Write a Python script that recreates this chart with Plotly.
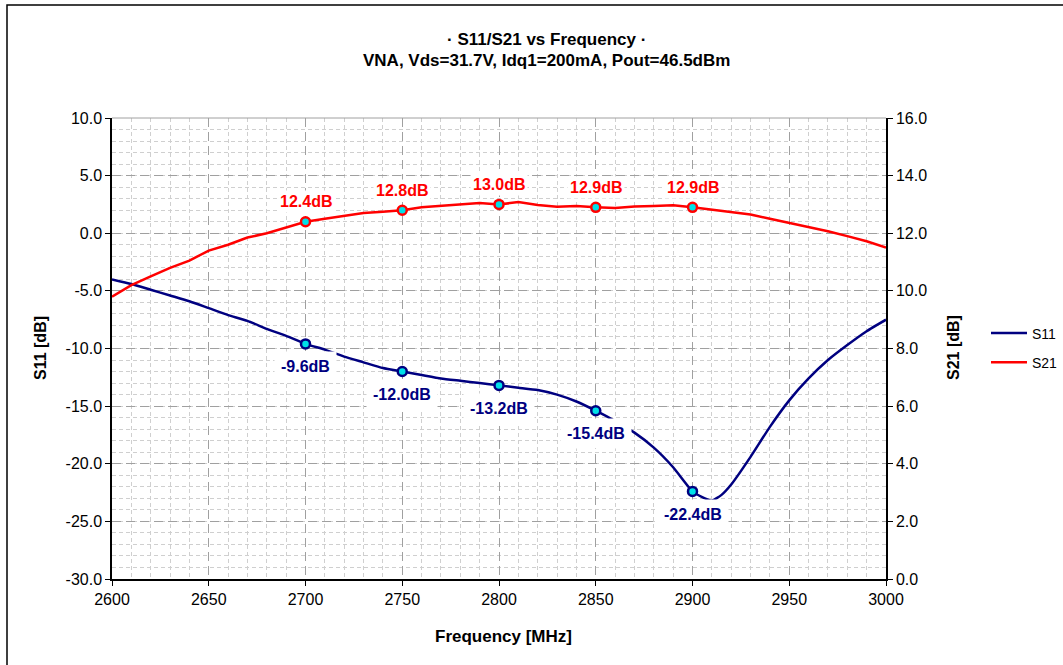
import plotly.graph_objects as go

# ---------------- data ----------------
freq = [2600, 2610, 2620, 2630, 2640, 2650, 2660, 2670, 2680, 2690,
        2700, 2710, 2720, 2730, 2740, 2750, 2760, 2770, 2780, 2790,
        2800, 2810, 2820, 2830, 2840, 2850, 2860, 2870, 2880, 2890,
        2900, 2905, 2910, 2915, 2920, 2930, 2940, 2950, 2960, 2970,
        2980, 2990, 3000]
s11 = [-4.0, -4.4, -4.9, -5.4, -5.9, -6.5, -7.1, -7.6, -8.3, -8.9,
       -9.6, -10.1, -10.7, -11.2, -11.7, -12.0, -12.3, -12.6, -12.8, -13.0,
       -13.2, -13.4, -13.6, -14.0, -14.6, -15.4, -16.3, -17.3, -18.6, -20.3,
       -22.4, -22.9, -23.2, -22.7, -21.8, -19.4, -16.8, -14.5, -12.6, -11.0,
       -9.7, -8.5, -7.5]

freq21 = [2600, 2610, 2620, 2630, 2640, 2650, 2660, 2670, 2680, 2690,
          2700, 2710, 2720, 2730, 2740, 2750, 2760, 2770, 2780, 2790,
          2800, 2810, 2820, 2830, 2840, 2850, 2860, 2870, 2880, 2890,
          2900, 2910, 2920, 2930, 2940, 2950, 2960, 2970, 2980, 2990, 3000]
s21 = [9.8, 10.2, 10.5, 10.8, 11.05, 11.4, 11.6, 11.85, 12.0, 12.2,
       12.4, 12.5, 12.6, 12.7, 12.75, 12.8, 12.9, 12.95, 13.0, 13.05,
       13.0, 13.08, 12.98, 12.92, 12.95, 12.9, 12.88, 12.93, 12.95, 12.97,
       12.9, 12.82, 12.75, 12.65, 12.5, 12.36, 12.22, 12.07, 11.9, 11.72, 11.5]

mark_freq = [2700, 2750, 2800, 2850, 2900]
s11_mark = [-9.6, -12.0, -13.2, -15.4, -22.4]
s21_mark = [12.4, 12.8, 13.0, 12.9, 12.9]

y1_ticks = [-30, -25, -20, -15, -10, -5, 0, 5, 10]
y1_ticktext = ["-30.0", "-25.0", "-20.0", "-15.0", "-10.0", "-5.0", "0.0", "5.0", "10.0"]
y2_ticks = [0, 2, 4, 6, 8, 10, 12, 14, 16]
y2_ticktext = ["0.0", "2.0", "4.0", "6.0", "8.0", "10.0", "12.0", "14.0", "16.0"]

title1 = "· S11/S21 vs Frequency ·"
title2 = "VNA, Vds=31.7V, Idq1=200mA, Pout=46.5dBm"
xtitle = "Frequency [MHz]"
y1title = "S11 [dB]"
y2title = "S21 [dB]"

# ---------------- style ----------------
FONT = "Liberation Sans, Arial, sans-serif"
NAVY = "#000080"
RED = "#ff0000"
CYAN = "#00e0e8"

L, R, T, B = 112, 886, 118, 579
W, H = 1063, 665
PW, PH = R - L, B - T


def px(x):
    return (x - L) / PW


def py(y):
    return (B - y) / PH


fig = go.Figure()

fig.add_trace(go.Scatter(x=freq, y=s11, name="S11", mode="lines", legendgroup="a",
                         line=dict(color=NAVY, width=2.5, shape="spline", smoothing=0.5)))
fig.add_trace(go.Scatter(x=freq21, y=s21, name="S21", mode="lines", legendgroup="b",
                         line=dict(color=RED, width=2.5), yaxis="y2"))
fig.add_trace(go.Scatter(x=mark_freq, y=s11_mark, mode="markers", showlegend=False,
                         marker=dict(size=9, color=CYAN, line=dict(color=NAVY, width=2.5))))
fig.add_trace(go.Scatter(x=mark_freq, y=s21_mark, mode="markers", showlegend=False,
                         yaxis="y2",
                         marker=dict(size=9, color=CYAN, line=dict(color=RED, width=2.5))))

annotations = []
for f, v in zip(mark_freq, s11_mark):
    annotations.append(dict(x=f, y=v, xref="x", yref="y", text=f"<b>{v:.1f}dB</b>",
                            showarrow=False, yshift=-23, bgcolor="white",
                            borderpad=6,
                            font=dict(family=FONT, size=16, color=NAVY)))
for f, v in zip(mark_freq, s21_mark):
    annotations.append(dict(x=f, y=v, xref="x", yref="y2", text=f"<b>{v:.1f}dB</b>",
                            showarrow=False, yshift=20, bgcolor="white",
                            borderpad=2,
                            font=dict(family=FONT, size=16, color=RED)))


def label(x, y, text, size, angle=0):
    return dict(x=px(x), y=py(y), xref="paper", yref="paper", text=f"<b>{text}</b>",
                xanchor="center", yanchor="middle", textangle=angle,
                showarrow=False, font=dict(family=FONT, size=size, color="black"))


annotations += [
    label(546, 40, title1, 17),
    label(546, 61, title2, 17),
    label(503, 636, xtitle, 17),
    label(40, 348, y1title, 16, -90),
    label(953, 348, y2title, 16, -90),
]

grid_major = dict(showgrid=True, gridcolor="#a0a0a0", gridwidth=1, griddash="9px,5px")
minor = dict(showgrid=True, gridcolor="#cfcfcf", gridwidth=1, griddash="4px,3px")

fig.update_layout(
    width=W, height=H,
    margin=dict(l=L, r=W - R, t=T, b=H - B, autoexpand=False),
    paper_bgcolor="white", plot_bgcolor="white",
    font=dict(family=FONT, size=16, color="black"),
    showlegend=True,
    legend=dict(x=px(986), y=py(348), xanchor="left", yanchor="middle",
                bgcolor="rgba(0,0,0,0)", font=dict(family=FONT, size=14, color="black"),
                itemwidth=36, tracegroupgap=8),
    annotations=annotations,
    xaxis=dict(range=[2600, 3000], dtick=50, tick0=2600, automargin=False,
               showline=True, linecolor="black", linewidth=1.5, mirror=False,
               ticks="outside", ticklen=5, tickcolor="black",
               tickfont=dict(family=FONT, size=16),
               minor=dict(dtick=10, **minor), zeroline=False, **grid_major),
    yaxis=dict(range=[-30, 10], tickmode="array", tickvals=y1_ticks, ticktext=y1_ticktext,
               automargin=False,
               showline=True, linecolor="black", linewidth=1.5,
               ticks="outside", ticklen=5, tickcolor="black",
               tickfont=dict(family=FONT, size=16),
               minor=dict(dtick=1, **minor), zeroline=False, **grid_major),
    yaxis2=dict(range=[0, 16], tickmode="array", tickvals=y2_ticks, ticktext=y2_ticktext,
                overlaying="y", side="right", automargin=False,
                showline=True, linecolor="black", linewidth=1.5,
                ticks="outside", ticklen=5, tickcolor="black",
                tickfont=dict(family=FONT, size=16), showgrid=False, zeroline=False),
    shapes=[dict(type="rect", xref="paper", yref="paper",
                 x0=px(7), x1=px(1075), y0=py(680), y1=py(5),
                 line=dict(color="black", width=1.5), fillcolor="rgba(0,0,0,0)", layer="below"),
            dict(type="line", xref="paper", yref="paper", x0=0, x1=1, y0=1, y1=1,
                 line=dict(color="#a0a0a0", width=1))],
)

fig.write_html("out.html", config={"displayModeBar": False},
               post_script="document.body.style.margin='0px';")
